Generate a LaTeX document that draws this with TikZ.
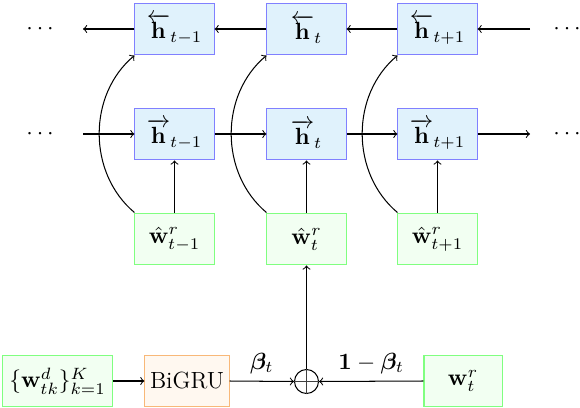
\RequirePackage{fix-cm}
\documentclass[tikz,border=0pt]{standalone}
\usepackage{amsmath,amssymb,bm}
\definecolor{hfill}{RGB}{224,242,252}
\definecolor{hdraw}{RGB}{128,128,255}
\definecolor{gfill}{RGB}{242,255,242}
\definecolor{gdraw}{RGB}{128,255,128}
\definecolor{ofill}{RGB}{255,248,240}
\definecolor{odraw}{RGB}{248,184,120}
\begin{document}
\begin{tikzpicture}[x=0.487pt,y=-0.487pt,
  every node/.style={font=\fontsize{11.4}{13}\selectfont},
  box/.style={line width=0.5pt, minimum height=25.3pt, inner sep=1pt},
  hbox/.style={box, draw=hdraw, fill=hfill, minimum width=38.5pt},
  wbox/.style={box, draw=gdraw, fill=gfill},
  obox/.style={box, draw=odraw, fill=ofill},
  arr/.style={->, line width=0.5pt},
  opl/.style={circle, draw, line width=0.5pt, minimum size=11.7pt, inner sep=0pt}
]
\useasboundingbox (0,0) rectangle (580,408);
% top row (backward)
\node[hbox] (bl) at (174.5,29) {$\overleftarrow{\mathbf{h}}_{t-1}$};
\node[hbox] (bc) at (306.5,29) {$\overleftarrow{\mathbf{h}}_{t}$};
\node[hbox] (bp) at (437.5,29) {$\overleftarrow{\mathbf{h}}_{t+1}$};
% middle row (forward)
\node[hbox] (fl) at (174.5,134) {$\overrightarrow{\mathbf{h}}_{t-1}$};
\node[hbox] (fc) at (306.5,134) {$\overrightarrow{\mathbf{h}}_{t}$};
\node[hbox] (fp) at (437.5,134) {$\overrightarrow{\mathbf{h}}_{t+1}$};
% inputs
\node[wbox, minimum width=38.5pt] (wl) at (174.5,239) {$\hat{\mathbf{w}}^r_{t-1}$};
\node[wbox, minimum width=38.5pt] (wc) at (306.5,239) {$\hat{\mathbf{w}}^r_{t}$};
\node[wbox, minimum width=38.5pt] (wp) at (437.5,239) {$\hat{\mathbf{w}}^r_{t+1}$};
% dots
\node (d1) at (42,29) {$\cdots$};
\node (d2) at (42,134) {$\cdots$};
\node (d3) at (569,29) {$\cdots$};
\node (d4) at (569,134) {$\cdots$};
\coordinate (al) at (83,29);
\coordinate (ar) at (530,29);
\coordinate (ml) at (83,134);
\coordinate (mr) at (530,134);
% bottom row
\node[wbox, minimum width=54pt] (wd) at (57.5,381) {$\{\mathbf{w}^d_{tk}\}_{k=1}^K$};
\node[obox, minimum width=41pt] (gru) at (187,381) {BiGRU};
\node[opl] (op) at (306.5,381.5) {};
\draw[line width=0.4pt, black!75] (op.north) -- (op.south) (op.west) -- (op.east);
\node[wbox, minimum width=38pt] (wr) at (463,381) {$\mathbf{w}^r_t$};
% chains
\draw[arr] (ar) -- (bp.east);
\draw[arr] (bp.west) -- (bc.east);
\draw[arr] (bc.west) -- (bl.east);
\draw[arr] (bl.west) -- (al);
\draw[arr] (ml) -- (fl.west);
\draw[arr] (fl.east) -- (fc.west);
\draw[arr] (fc.east) -- (fp.west);
\draw[arr] (fp.east) -- (mr);
% verticals
\draw[arr] (wl.north) -- (fl.south);
\draw[arr] (wc.north) -- (fc.south);
\draw[arr] (wp.north) -- (fp.south);
% curves
\draw[arr] (wl.north west) to[bend left=50] (bl.south west);
\draw[arr] (wc.north west) to[bend left=50] (bc.south west);
\draw[arr] (wp.north west) to[bend left=50] (bp.south west);
% bottom
\draw[arr] (wd.east) -- (gru.west);
\draw[arr] (gru.east) -- node[above] {$\bm{\beta}_t$} (op.west);
\draw[arr] (wr.west) -- node[above] {$\mathbf{1}-\bm{\beta}_t$} (op.east);
\draw[arr] (op.north) -- (wc.south);
\end{tikzpicture}
\end{document}
